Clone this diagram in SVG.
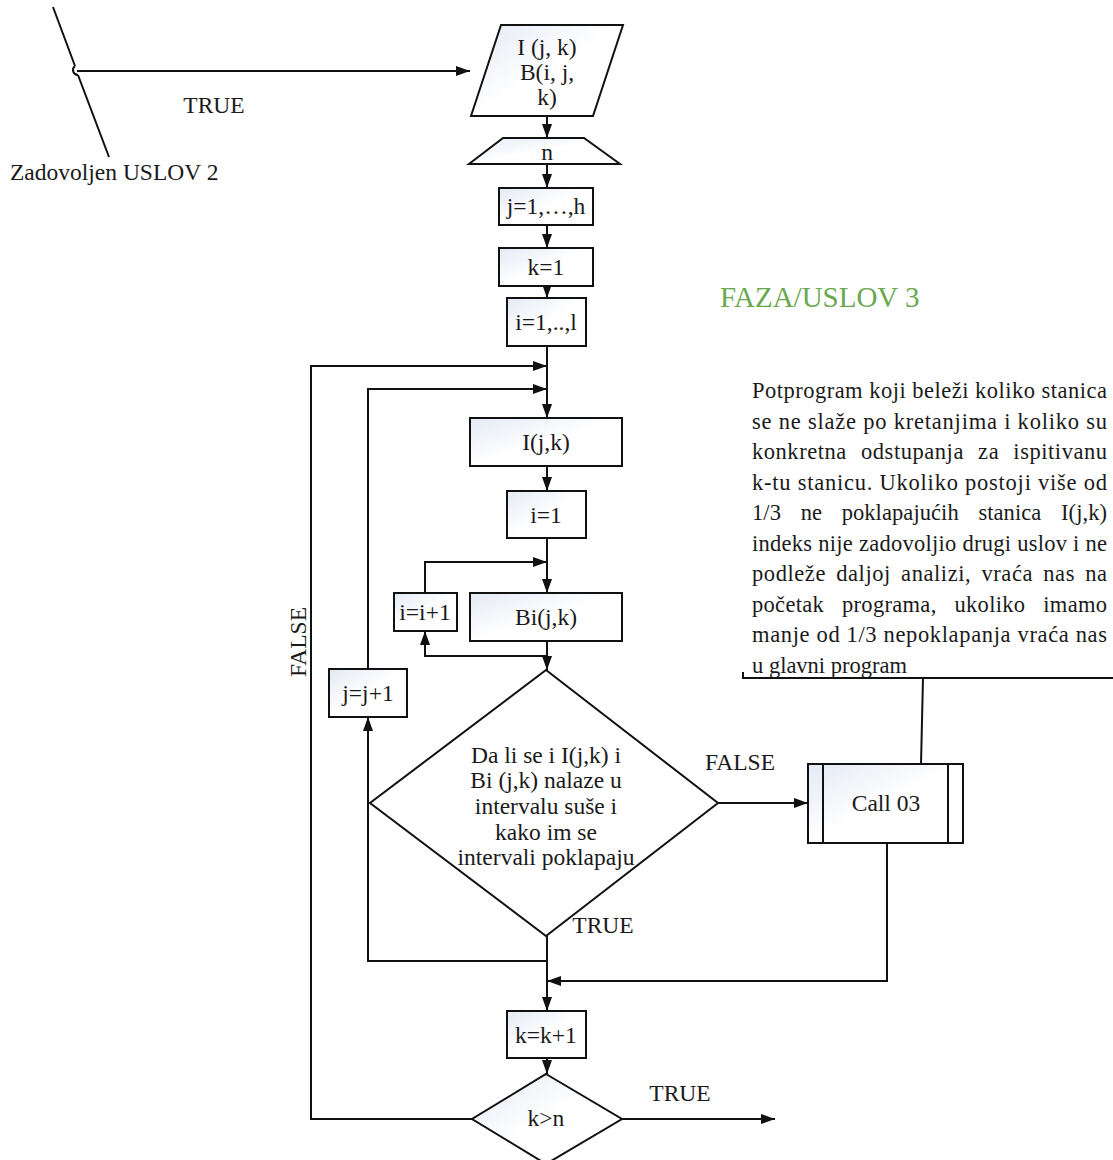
<svg xmlns="http://www.w3.org/2000/svg" width="1113" height="1160" viewBox="0 0 1113 1160">
<style>
text{font-family:"Liberation Serif","Times New Roman",serif;font-size:23.5px;fill:#1a1a1a}
.c{text-anchor:middle}
.n{stroke:#111;stroke-width:2;fill:url(#g)}
.w{stroke:#111;stroke-width:2;fill:#fff}
.e{stroke:#111;stroke-width:2;fill:none}
.a{stroke:#111;stroke-width:2;fill:none;marker-end:url(#ah)}
text.ann{font-size:22.5px}
</style>
<defs>
<linearGradient id="g" x1="0" y1="0" x2="1" y2="1">
<stop offset="0" stop-color="#e4e9f4"/>
<stop offset="0.5" stop-color="#ffffff"/>
<stop offset="1" stop-color="#ffffff"/>
</linearGradient>
<marker id="ah" viewBox="0 0 14 10" refX="14" refY="5" markerWidth="14" markerHeight="10" markerUnits="userSpaceOnUse" orient="auto">
<path d="M0,0 L14,5 L0,10 z" fill="#111"/>
</marker>
</defs>
<rect width="1113" height="1160" fill="#fff"/>

<g id="connectors">
<path class="e" d="M53,7 L75,66 M78,75 L109,157"/>
<path class="e" d="M75,66 A5,5 0 0 0 78,75"/>
<path class="a" d="M77,71 L470,71"/>
<path class="a" d="M547,116 L547,138"/>
<path class="a" d="M547,164 L547,188"/>
<path class="a" d="M547,225 L547,248"/>
<path class="a" d="M547,286 L547,298"/>
<path class="a" d="M547,346 L547,418"/>
<path class="a" d="M472,1119 L311,1119 L311,366 L547,366"/>
<path class="a" d="M368,669 L368,389 L547,389"/>
<path class="a" d="M547,466 L547,491"/>
<path class="a" d="M547,538 L547,593"/>
<path class="a" d="M425,593 L425,562 L547,562"/>
<path class="a" d="M547,641 L547,670"/>
<path class="a" d="M547,656 L425,656 L425,631"/>
<path class="a" d="M718,803 L808,803"/>
<path class="a" d="M547,961 L368,961 L368,717"/>
<path class="a" d="M547,936 L547,1011"/>
<path class="a" d="M887,843 L887,981 L547,981"/>
<path class="a" d="M547,1058 L547,1074"/>
<path class="a" d="M622,1119 L775,1119"/>
<path class="e" d="M921,764 L923,678 M743,672 L743,678 L1113,678"/>
</g>

<g id="start-label">
<text x="214" y="113" class="c">TRUE</text>
<text x="10" y="180">Zadovoljen USLOV 2</text>
</g>

<g id="input">
<polygon class="n" points="501,25 623,25 593,116 471,116"/>
<text x="547" y="55" class="c">I (j, k)</text>
<text x="547" y="80" class="c">B(i, j,</text>
<text x="547" y="105" class="c">k)</text>
</g>

<g id="manual-n">
<polygon class="n" points="503,138 584,138 620,164 469,164"/>
<text x="547" y="160" class="c">n</text>
</g>

<g id="j-loop">
<rect class="n" x="499" y="188" width="94" height="37"/>
<text x="546" y="214" class="c">j=1,…,h</text>
</g>

<g id="k-init">
<rect class="n" x="499" y="248" width="94" height="38"/>
<text x="546" y="275" class="c">k=1</text>
</g>

<g id="i-loop">
<rect class="n" x="507" y="298" width="79" height="48"/>
<text x="546" y="330" class="c">i=1,..,l</text>
</g>

<g id="I-jk">
<rect class="n" x="470" y="418" width="152" height="48"/>
<text x="546" y="450" class="c">I(j,k)</text>
</g>

<g id="i-init">
<rect class="n" x="507" y="491" width="79" height="47"/>
<text x="546" y="523" class="c">i=1</text>
</g>

<g id="i-inc">
<rect class="n" x="394" y="593" width="63" height="38"/>
<text x="425" y="620" class="c">i=i+1</text>
</g>

<g id="Bi-jk">
<rect class="n" x="470" y="593" width="152" height="48"/>
<text x="546" y="625" class="c">Bi(j,k)</text>
</g>

<g id="j-inc">
<rect class="n" x="329" y="669" width="78" height="48"/>
<text x="368" y="701" class="c">j=j+1</text>
</g>

<g id="decision">
<polygon class="w" points="546,670 718,803 546,936 370,803"/>
<text x="546" y="763" class="c">Da li se i I(j,k) i</text>
<text x="546" y="788" class="c">Bi (j,k) nalaze u</text>
<text x="546" y="814" class="c">intervalu suše i</text>
<text x="546" y="840" class="c">kako im se</text>
<text x="546" y="865" class="c">intervali poklapaju</text>
</g>

<g id="labels">
<text x="740" y="770" class="c">FALSE</text>
<text x="603" y="933" class="c">TRUE</text>
<text x="680" y="1101" class="c">TRUE</text>
<text transform="translate(306,642) rotate(-90)" class="c">FALSE</text>
</g>

<g id="call03">
<rect class="n" x="808" y="764" width="155" height="79"/>
<path class="e" d="M823,764 L823,843 M948,764 L948,843"/>
<text x="886" y="811" class="c">Call 03</text>
</g>

<g id="k-inc">
<rect class="n" x="507" y="1011" width="79" height="47"/>
<text x="546" y="1043" class="c">k=k+1</text>
</g>

<g id="k-gt-n">
<polygon class="n" points="546,1074 622,1119 546,1164 472,1119"/>
<text x="546" y="1126" class="c">k&gt;n</text>
</g>

<g id="title">
<text x="720" y="307" style="font-size:29px;fill:#6aa84f">FAZA/USLOV 3</text>
</g>

<g id="annotation">
<text class="ann" x="752" y="398" textLength="355" lengthAdjust="spacing">Potprogram koji beleži koliko stanica</text>
<text class="ann" x="752" y="429" textLength="355" lengthAdjust="spacing">se ne slaže po kretanjima i koliko su</text>
<text class="ann" x="752" y="459" textLength="355" lengthAdjust="spacing" word-spacing="8">konkretna odstupanja za ispitivanu</text>
<text class="ann" x="752" y="490" textLength="355" lengthAdjust="spacing">k-tu stanicu. Ukoliko postoji više od</text>
<text class="ann" x="752" y="520" textLength="355" lengthAdjust="spacing" word-spacing="14">1/3 ne poklapajućih stanica I(j,k)</text>
<text class="ann" x="752" y="551" textLength="355" lengthAdjust="spacing">indeks nije zadovoljio drugi uslov i ne</text>
<text class="ann" x="752" y="581" textLength="355" lengthAdjust="spacing" word-spacing="4">podleže daljoj analizi, vraća nas na</text>
<text class="ann" x="752" y="612" textLength="355" lengthAdjust="spacing" word-spacing="12">početak programa, ukoliko imamo</text>
<text class="ann" x="752" y="642" textLength="355" lengthAdjust="spacing">manje od 1/3 nepoklapanja vraća nas</text>
<text class="ann" x="752" y="673">u glavni program</text>
</g>
</svg>
